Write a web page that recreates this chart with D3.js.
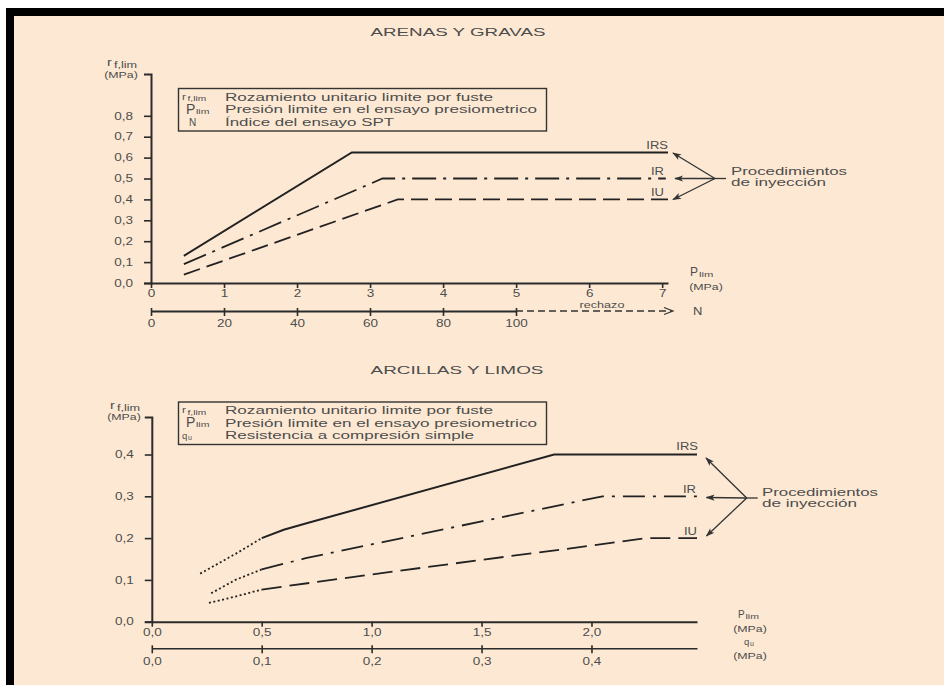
<!doctype html>
<html lang="es">
<head>
<meta charset="UTF-8">
<title>Rozamiento limite por fuste</title>
<style>
  body { margin: 0; background: #fff; }
  svg text { font-family: "Liberation Sans", Arial, sans-serif; fill: #4d4d4d; }
  .axis path, .axis line { stroke: #2b2b2b; }
</style>
</head>
<body>
<svg id="chart" width="944" height="685"></svg>
<script src="https://cdn.jsdelivr.net/npm/d3@7"></script>
<script>
// ---- data: arenas y gravas ----
var plimTicks = [0, 1, 2, 3, 4, 5, 6, 7];
var nTicks = [0, 20, 40, 60, 80, 100];
var fTicksTop = [0, 0.1, 0.2, 0.3, 0.4, 0.5, 0.6, 0.7, 0.8];
var irsTop = [[0.45, 0.13], [2.75, 0.625], [7.08, 0.625]];
var irTop = [[0.45, 0.09], [3.17, 0.5], [7.05, 0.5]];
var iuTop = [[0.45, 0.04], [3.38, 0.4], [7.08, 0.4]];

// ---- data: arcillas y limos ----
var plimTicksBot = [0, 0.5, 1, 1.5, 2];
var quTicks = [0, 0.1, 0.2, 0.3, 0.4];
var fTicksBot = [0, 0.1, 0.2, 0.3, 0.4];
var irsDots = [[0.22, 0.115], [0.39, 0.165], [0.5, 0.2]];
var irsBot = [[0.5, 0.2], [0.6, 0.22], [0.7, 0.235], [1.83, 0.4], [2.48, 0.4]];
var irDots = [[0.27, 0.068], [0.38, 0.1], [0.5, 0.125]];
var irBot = [[0.5, 0.125], [0.7, 0.152], [1.0, 0.185], [1.5, 0.24], [2.05, 0.3], [2.48, 0.3]];
var iuDots = [[0.26, 0.045], [0.38, 0.06], [0.5, 0.077]];
var iuBot = [[0.5, 0.077], [1.0, 0.113], [1.5, 0.148], [2.0, 0.182], [2.25, 0.2], [2.48, 0.2]];

var svg = d3.select('#chart');
var comma = function(d) { return d3.format('.1f')(d).replace('.', ','); };

// text is wider than normal in the scan, so stretch it
function stretch(sel, k) {
  sel.each(function() {
    var w = this.getComputedTextLength();
    this.setAttribute('textLength', w * k);
    this.setAttribute('lengthAdjust', 'spacingAndGlyphs');
  });
  return sel;
}
function txt(x, y, s, size, k, anchor) {
  var t = svg.append('text').attr('x', x).attr('y', y)
    .attr('font-size', size).attr('text-anchor', anchor || 'start').text(s);
  stretch(t, k || 1.35);
  return t;
}
function fit(t, w) {
  t.attr('textLength', w).attr('lengthAdjust', 'spacingAndGlyphs');
  return t;
}

// frame
svg.append('rect').attr('x', 6).attr('y', 8).attr('width', 938).attr('height', 677).attr('fill', '#000');
svg.append('rect').attr('x', 14).attr('y', 16).attr('width', 930).attr('height', 669).attr('fill', '#fde9d3');

svg.append('defs').append('marker')
  .attr('id', 'arr').attr('viewBox', '0 0 10 10').attr('refX', 9).attr('refY', 5)
  .attr('markerWidth', 9).attr('markerHeight', 9).attr('orient', 'auto')
  .attr('markerUnits', 'userSpaceOnUse')
  .append('path').attr('d', 'M0,1.5 L10,5 L0,8.5 L2.5,5 Z').attr('fill', '#333');

function drawLine(data, x, y, dash, w) {
  var line = d3.line().x(function(d) { return x(d[0]); }).y(function(d) { return y(d[1]); });
  svg.append('path').attr('d', line(data)).attr('fill', 'none')
    .attr('stroke', '#222').attr('stroke-width', w || 1.8)
    .attr('stroke-dasharray', dash || null);
}

function styleAxis(g, k) {
  g.attr('class', 'axis');
  g.select('.domain').attr('stroke-width', 2);
  g.selectAll('.tick line').attr('stroke-width', 1.6);
  g.selectAll('.tick text').attr('font-size', 10).attr('fill', '#4d4d4d')
    .attr('font-family', '"Liberation Sans", Arial, sans-serif');
  stretch(g.selectAll('.tick text'), k || 1.35);
}

function symR(xx, yy, big) {
  var s = big ? 1.25 : 1;
  var r = svg.append('text').attr('x', xx).attr('y', yy - 1).attr('font-size', 9 * s).text('r');
  stretch(r, 1.3);
  var f = svg.append('text').attr('x', xx + 5.5 * s).attr('y', yy + 0.5).attr('font-size', 7 * s).text('f,lim');
  stretch(f, 1.45);
}
function symP(xx, yy) {
  svg.append('text').attr('x', xx).attr('y', yy + 0.5).attr('font-size', 14).text('P');
  stretch(svg.append('text').attr('x', xx + 10).attr('y', yy + 0.5).attr('font-size', 7.5).text('lim'), 1.4);
}

function legendBox(y0, rows) {
  svg.append('rect').attr('x', 178.5).attr('y', y0).attr('width', 368).attr('height', 42.5)
    .attr('fill', 'none').attr('stroke', '#333').attr('stroke-width', 1.4);
  rows.forEach(function(r, i) {
    var yy = y0 + 12 + i * 12.5;
    r.sym(yy);
    fit(svg.append('text').attr('x', 225).attr('y', yy).attr('font-size', 10).text(r.text), r.w);
  });
}

function arrows(tips, vx, vy, tx, ty) {
  tips.forEach(function(p) {
    svg.append('line').attr('x1', vx).attr('y1', vy).attr('x2', p[0]).attr('y2', p[1])
      .attr('stroke', '#333').attr('stroke-width', 1.3).attr('marker-end', 'url(#arr)');
  });
  svg.append('line').attr('x1', vx).attr('y1', vy).attr('x2', vx + 11).attr('y2', vy)
    .attr('stroke', '#333').attr('stroke-width', 1.3);
  fit(svg.append('text').attr('x', tx).attr('y', ty).attr('font-size', 10).text('Procedimientos'), 116);
  fit(svg.append('text').attr('x', tx).attr('y', ty + 11).attr('font-size', 10).text('de inyección'), 95);
}

// ================= ARENAS Y GRAVAS =================
var xT = d3.scaleLinear().domain([0, 7.08]).range([151, 668]);
var yT = d3.scaleLinear().domain([0, 1]).range([283, 74]);
var nT = d3.scaleLinear().domain([0, 100]).range([151, 516]);

fit(svg.append('text').attr('x', 458).attr('y', 36).attr('font-size', 10.5)
  .attr('text-anchor', 'middle').text('ARENAS Y GRAVAS'), 175);

var gyT = svg.append('g').attr('transform', 'translate(' + xT(0) + ',0)')
  .call(d3.axisLeft(yT).tickValues(fTicksTop).tickFormat(comma).tickSize(7).tickPadding(11));
styleAxis(gyT);
var gxT = svg.append('g').attr('transform', 'translate(0,' + yT(0) + ')')
  .call(d3.axisBottom(xT).tickValues(plimTicks).tickFormat(d3.format('d')).tickSize(5).tickPadding(2).tickSizeOuter(0));
styleAxis(gxT);
var gnT = svg.append('g').attr('transform', 'translate(0,311)')
  .call(d3.axisBottom(nT).tickValues(nTicks).tickFormat(d3.format('d')).tickSize(5).tickPadding(4).tickSizeOuter(0));
styleAxis(gnT);
gnT.selectAll('.tick line').attr('y1', -3);
svg.append('line').attr('x1', nT(100)).attr('y1', 311).attr('x2', 672).attr('y2', 311)
  .attr('stroke', '#333').attr('stroke-width', 1.3).attr('stroke-dasharray', '7,4');
svg.append('path').attr('d', 'M664,307.5 L673,311 L664,314.5').attr('fill', 'none')
  .attr('stroke', '#333').attr('stroke-width', 1.2);
txt(602, 307.5, 'rechazo', 9, 1.4, 'middle');
txt(693, 315, 'N', 10, 1.3);

symR(107, 67, true);
txt(121, 78, '(MPa)', 9.5, 1.3, 'middle');
svg.append('text').attr('x', 690).attr('y', 276).attr('font-size', 12).text('P');
stretch(svg.append('text').attr('x', 699).attr('y', 277).attr('font-size', 8).text('lim'), 1.4);
txt(706, 290, '(MPa)', 9.5, 1.3, 'middle');

legendBox(88.5, [
  { sym: function(yy) { symR(182, yy); }, text: 'Rozamiento unitario limite por fuste', w: 268 },
  { sym: function(yy) { symP(186, yy); }, text: 'Presión limite en el ensayo presiometrico', w: 312 },
  { sym: function(yy) { svg.append('text').attr('x', 189).attr('y', yy).attr('font-size', 10).text('N'); }, text: 'Índice del ensayo SPT', w: 169 }
]);

drawLine(irsTop, xT, yT, null, 2);
drawLine(irTop, xT, yT, '24,7,3,7');
drawLine(iuTop, xT, yT, '17,7');

txt(668, 149, 'IRS', 10, 1.3, 'end');
txt(664, 175, 'IR', 10, 1.3, 'end');
txt(664, 196, 'IU', 10, 1.3, 'end');
arrows([[673, 153], [675, 178.5], [673, 199.5]], 715, 178.5, 731, 175);

// ================= ARCILLAS Y LIMOS =================
var xB = d3.scaleLinear().domain([0, 2.48]).range([151.8, 697]);
var yB = d3.scaleLinear().domain([0, 0.49]).range([621.7, 416.9]);
var qB = d3.scaleLinear().domain([0, 0.496]).range([151.8, 697]);

fit(svg.append('text').attr('x', 457).attr('y', 374).attr('font-size', 10.5)
  .attr('text-anchor', 'middle').text('ARCILLAS Y LIMOS'), 173);

var gyB = svg.append('g').attr('transform', 'translate(' + xB(0) + ',0)')
  .call(d3.axisLeft(yB).tickValues(fTicksBot).tickFormat(comma).tickSize(7).tickPadding(11));
styleAxis(gyB);
var gxB = svg.append('g').attr('transform', 'translate(0,' + yB(0) + ')')
  .call(d3.axisBottom(xB).tickValues(plimTicksBot).tickFormat(comma).tickSize(5).tickPadding(2).tickSizeOuter(0));
styleAxis(gxB);
var gqB = svg.append('g').attr('transform', 'translate(0,648.3)')
  .call(d3.axisBottom(qB).tickValues(quTicks).tickFormat(comma).tickSize(5).tickPadding(5).tickSizeOuter(0));
styleAxis(gqB);
gqB.selectAll('.tick line').attr('y1', -3);
gqB.select('.domain').attr('stroke-width', 1.6);

symR(110, 410, true);
txt(124, 420, '(MPa)', 9.5, 1.3, 'middle');
svg.append('text').attr('x', 738).attr('y', 618).attr('font-size', 10).text('P');
stretch(svg.append('text').attr('x', 745.5).attr('y', 619).attr('font-size', 7.5).text('lim'), 1.4);
txt(750, 632, '(MPa)', 9.5, 1.3, 'middle');
svg.append('text').attr('x', 744).attr('y', 645).attr('font-size', 9.5).text('q');
svg.append('text').attr('x', 750).attr('y', 646).attr('font-size', 7).text('u');
txt(750, 659, '(MPa)', 9.5, 1.3, 'middle');

legendBox(402, [
  { sym: function(yy) { symR(182, yy); }, text: 'Rozamiento unitario limite por fuste', w: 268 },
  { sym: function(yy) { symP(186, yy); }, text: 'Presión limite en el ensayo presiometrico', w: 312 },
  { sym: function(yy) {
      svg.append('text').attr('x', 182).attr('y', yy).attr('font-size', 9.5).text('q');
      svg.append('text').attr('x', 188).attr('y', yy + 1).attr('font-size', 7).text('u');
    }, text: 'Resistencia a compresión simple', w: 249 }
]);

drawLine(irsDots, xB, yB, '2,2.5');
drawLine(irsBot, xB, yB, null, 2);
drawLine(irDots, xB, yB, '2,2.5');
drawLine(irBot, xB, yB, '22,8,3,8');
drawLine(iuDots, xB, yB, '2,2.5');
drawLine(iuBot, xB, yB, '20,8');

txt(698, 450, 'IRS', 10, 1.3, 'end');
txt(696, 493, 'IR', 10, 1.3, 'end');
txt(697, 535, 'IU', 10, 1.3, 'end');
arrows([[706, 458], [706.5, 497.5], [706.5, 536]], 746.7, 498, 762, 496);
</script>
</body>
</html>
